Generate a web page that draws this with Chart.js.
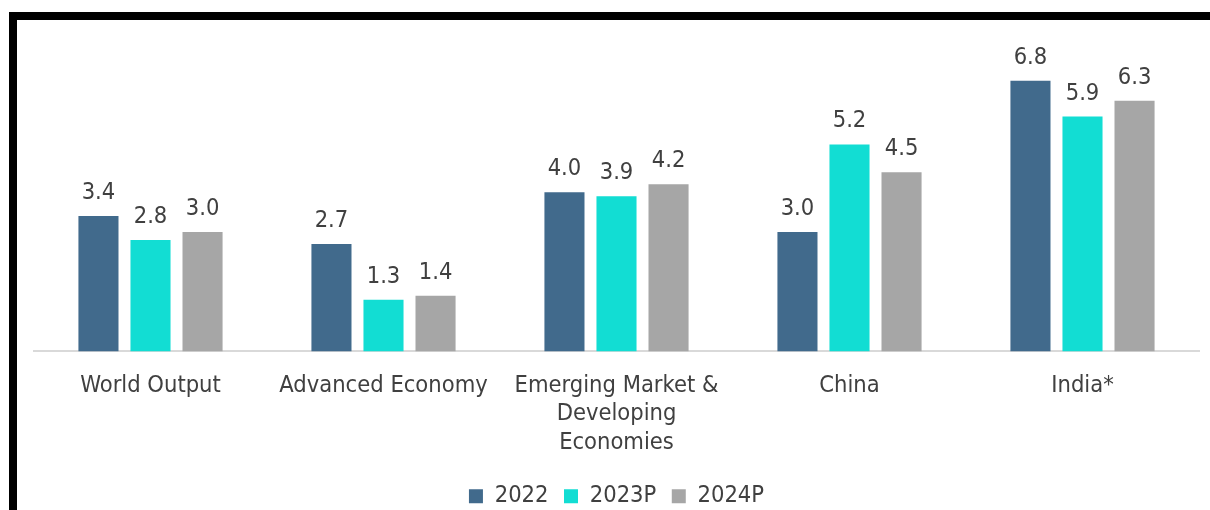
<!DOCTYPE html>
<html>
<head>
<meta charset="utf-8">
<script src="https://cdn.jsdelivr.net/npm/chart.js@4"></script>
<style>
  html, body { margin: 0; padding: 0; background: #fff; overflow: hidden; }
  #frame {
    position: absolute; left: 9px; top: 12px;
    width: 1201px; height: 498px;
    border-top: 8px solid #000; border-left: 8px solid #000;
    box-sizing: border-box; overflow: hidden;
  }
  #wrap { position: absolute; left: 0; top: 0; width: 1193px; height: 498px; }
</style>
</head>
<body>
<div id="frame"><div id="wrap"><canvas id="growth-chart"></canvas></div></div>
<script>
// growth by region, %
const categories = [
  'World Output',
  'Advanced Economy',
  ['Emerging Market &', 'Developing', 'Economies'],
  'China',
  'India*',
];
const seriesNames = ['2022', '2023P', '2024P'];
const values2022  = [3.4, 2.7, 4.0, 3.0, 6.8];
const values2023P = [2.8, 1.3, 3.9, 5.2, 5.9];
const values2024P = [3.0, 1.4, 4.2, 4.5, 6.3];

const COLORS = ['#416a8c', '#12ddd3', '#a6a6a6'];
const TEXT = '#404040';
const FONT = "'DejaVu Sans Condensed', 'DejaVu Sans', sans-serif";

// values over the bars
const valueLabels = {
  id: 'valueLabels',
  afterDatasetsDraw(chart) {
    const ctx = chart.ctx;
    ctx.save();
    ctx.font = '23.5px ' + FONT;
    ctx.fillStyle = TEXT;
    ctx.textAlign = 'center';
    ctx.textBaseline = 'alphabetic';
    chart.data.datasets.forEach((ds, i) => {
      chart.getDatasetMeta(i).data.forEach((bar, j) => {
        ctx.fillText(ds.data[j].toFixed(1), bar.x, bar.y - 17);
      });
    });
    ctx.restore();
  }
};

const seriesData = [values2022, values2023P, values2024P];

new Chart(document.getElementById('growth-chart'), {
  type: 'bar',
  data: {
    labels: categories,
    datasets: seriesNames.map((name, i) => ({
      label: name,
      data: seriesData[i],
      backgroundColor: COLORS[i],
      borderWidth: 0,
      categoryPercentage: 0.67,
      barPercentage: 0.77,
    })),
  },
  options: {
    responsive: true,
    maintainAspectRatio: false,
    animation: false,
    layout: { padding: { left: 17, right: 11, top: 13, bottom: 0 } },
    plugins: {
      legend: {
        position: 'bottom',
        labels: {
          color: TEXT,
          font: { family: FONT, size: 23.5 },
          boxWidth: 14, boxHeight: 14,
          padding: 15.5,
        },
      },
      tooltip: { enabled: false },
    },
    scales: {
      x: {
        grid: { display: false },
        border: { display: true, color: '#d9d9d9', width: 2 },
        ticks: {
          color: TEXT,
          font: { family: FONT, size: 23.5, lineHeight: 1.2 },
          padding: 12.5,
          maxRotation: 0,
          autoSkip: false,
        },
      },
      y: {
        display: false,
        min: 0,
        max: 8,
      },
    },
  },
  plugins: [valueLabels],
});
</script>
</body>
</html>
